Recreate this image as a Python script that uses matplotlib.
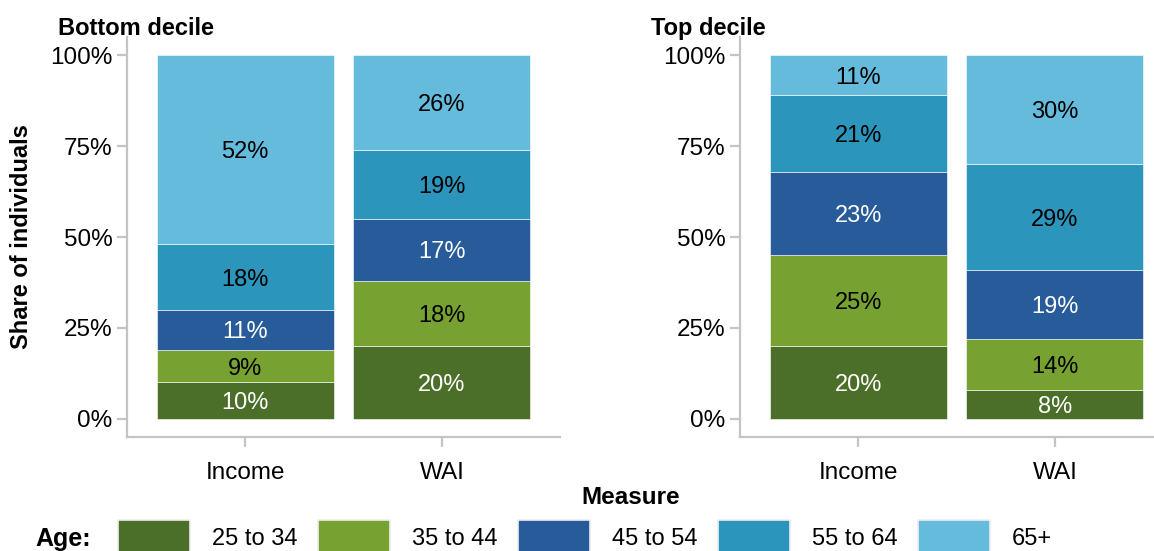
import numpy as np
import matplotlib; matplotlib.use("Agg")
import matplotlib.pyplot as plt
from matplotlib.patches import Rectangle

plt.rcParams.update({"font.family": ["Liberation Sans", "DejaVu Sans"]})

measures = ["Income", "WAI"]
ages = ["25 to 34", "35 to 44", "45 to 54", "55 to 64", "65+"]
colors = ["#4b6f29", "#77a232", "#275b9a", "#2b95bb", "#65bbdb"]
label_colors = ["white", "black", "white", "black", "black"]
panels = ["Bottom decile", "Top decile"]
# shares (%) per age group, rows = age groups, cols = Income, WAI
bottom = np.array([[10, 20], [9, 18], [11, 17], [18, 19], [52, 26]])
top = np.array([[20, 8], [25, 14], [23, 19], [21, 29], [11, 30]])
shares = [bottom, top]

W, H = 1154, 551
fig = plt.figure(figsize=(W / 100, H / 100), dpi=100)
grey = "#c4c4c4"
lefts = [127, 740]
title_x = [58, 651]
for i, (px, tx, name, data) in enumerate(zip(lefts, title_x, panels, shares)):
    ax = fig.add_axes([px / W, 1 - 437 / H, 433 / W, 400 / H])
    x = np.arange(1, len(measures) + 1)
    base = np.zeros(len(measures))
    for k in range(len(ages)):
        vals = data[k] / 100
        ax.bar(x, vals, 0.9, bottom=base, color=colors[k], edgecolor="white",
               linewidth=0.4)
        for xi, b, v, raw in zip(x, base, vals, data[k]):
            ax.text(xi, b + v / 2, f"{raw}%", ha="center",
                    va="center_baseline", fontsize=17, color=label_colors[k])
        base += vals
    ax.set_xlim(0.4, 2.6); ax.set_ylim(-0.05, 1.05)
    ax.set_xticks(x); ax.set_xticklabels(measures)
    ax.set_yticks([0, .25, .5, .75, 1])
    ax.set_yticklabels(["0%", "25%", "50%", "75%", "100%"])
    for s in ["top", "right"]:
        ax.spines[s].set_visible(False)
    for s in ["left", "bottom"]:
        ax.spines[s].set_color(grey); ax.spines[s].set_linewidth(1.6)
    ax.tick_params(colors=grey, labelcolor="black", labelsize=17.5, width=1.6,
                   length=7)
    ax.tick_params(axis="x", pad=11)
    fig.text(tx / W, 1 - 26 / H, name, fontsize=17, fontweight="bold",
             va="center_baseline", ha="left")

fig.text(22 / W, 1 - 237 / H, "Share of individuals", rotation=90, fontsize=17,
         fontweight="bold", ha="center", va="center")
fig.text(631 / W, 1 - 495 / H, "Measure", fontsize=17.5, fontweight="bold",
         ha="center", va="center_baseline")

# legend
fig.text(35 / W, 1 - 539 / H, "Age:", fontsize=18, fontweight="bold",
         ha="left", va="center")
for k, (lab, c) in enumerate(zip(ages, colors)):
    x0 = 118 + 200 * k
    fig.patches.append(Rectangle((x0 / W, 1 - 556 / H), 72 / W, 36 / H,
                                 transform=fig.transFigure, facecolor=c,
                                 edgecolor="#eeeeee", linewidth=1.2))
    fig.text((x0 + 94) / W, 1 - 539 / H, lab, fontsize=17, ha="left",
             va="center")

fig.savefig("out.png", dpi=100)
